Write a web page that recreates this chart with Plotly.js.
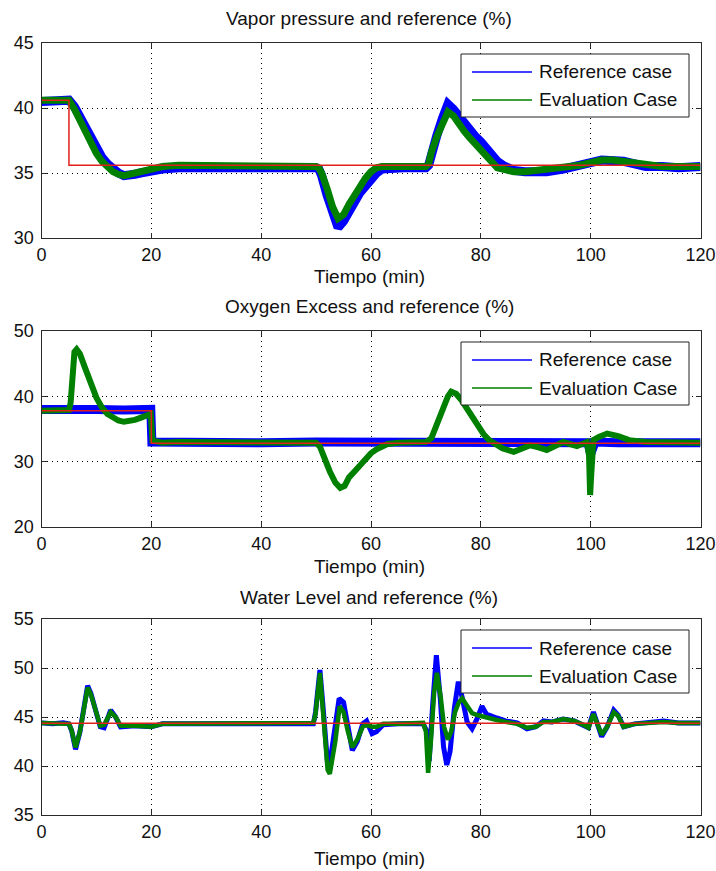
<!DOCTYPE html>
<html><head><meta charset="utf-8">
<script src="https://cdn.plot.ly/plotly-3.0.1.min.js"></script>
<style>html,body{margin:0;padding:0;background:#fff}#chart{width:716px;height:871px}</style>
</head><body><div id="chart"></div>
<script>
// ---------- DATA ----------
const xTicks = [0, 20, 40, 60, 80, 100, 120];
const titles = ["Vapor pressure and reference (%)", "Oxygen Excess and reference (%)", "Water Level and reference (%)"];
const xLabel = "Tiempo (min)";
const legendNames = ["Reference case", "Evaluation Case"];

// Plot 1: vapor pressure
const vpT = [0,1,2,3,4,5,6,7,8,9,10,11,12,13,14,15,16,17,18,19,20,22,25,30,35,40,45,50,50.5,51,52,53,54,55,56,57,58,59,60,61,62,64,66,68,70,70.5,71,72,73,74,75,76,77,78,79,80,81,82,83,84,85,86,88,90,92,95,98,100,102,104,106,108,110,113,116,120];
const vpRef = [40.5,40.5,40.6,40.5,40.6,40.6,40.1,39.3,38.3,37.5,36.8,36.2,35.7,35.3,35.0,34.8,34.8,34.9,35.0,35.1,35.2,35.3,35.4,35.4,35.5,35.4,35.4,35.4,35.3,34.8,33.3,31.9,30.8,31.3,32.1,32.8,33.5,34.0,34.6,35.0,35.3,35.4,35.4,35.4,35.4,35.6,36.6,37.9,39.2,40.3,39.9,39.3,38.8,38.3,37.8,37.4,36.9,36.3,35.9,35.6,35.3,35.2,35.1,35.1,35.1,35.3,35.5,35.8,36.0,36.0,35.9,35.7,35.5,35.5,35.4,35.5];
const vpEval = [40.6,40.6,40.7,40.6,40.7,40.6,39.9,39.0,38.0,37.2,36.5,35.9,35.4,35.1,34.9,34.8,34.9,35.0,35.1,35.3,35.4,35.5,35.6,35.6,35.6,35.5,35.5,35.5,35.4,35.0,33.8,32.4,31.5,31.8,32.6,33.3,34.0,34.6,35.1,35.4,35.5,35.5,35.5,35.5,35.5,35.7,36.6,37.8,38.9,39.7,39.4,38.7,38.2,37.7,37.2,36.8,36.3,35.8,35.4,35.3,35.2,35.1,35.1,35.2,35.2,35.4,35.6,35.8,36.0,36.0,35.9,35.7,35.6,35.5,35.5,35.5];
const vpSpT = [0,5,5,120];
const vpSp = [40.6,40.6,35.6,35.6];

// Plot 2: oxygen excess
const oxRefT = [0,5,10,15,19.9,20.1,25,30,40,50,60,70,80,90,99.5,100,100.3,100.8,105,110,120];
const oxRef = [38.0,38.1,38.0,37.9,38.0,33.0,32.9,33.0,32.9,33.0,33.0,33.0,33.0,32.9,32.9,31.2,32.5,33.0,32.9,32.9,32.9];
const oxEvalT = [0,2,4,5,5.3,5.6,6.0,6.4,7,8,9,10,11,12,13,14,15,16,17,18,19,19.9,20.2,22,25,30,35,40,45,50,50.7,51.5,52.5,53.5,54.4,55.2,56,57,58,59,60,61,62,63,65,68,70,71,72,73,74,74.6,75.5,76.5,77.5,78.5,79.5,80.5,81.5,82.5,84,86,87.5,89,90.5,92,93.5,95,97.5,99.3,99.7,99.9,100.1,100.5,101.5,103,105,107,110,113,116,120];
const oxEval = [37.8,37.9,37.8,37.9,39,44,46.8,47.2,46.5,44.2,42.0,39.8,38.3,37.3,36.8,36.3,36.1,36.2,36.4,36.7,37.1,37.3,33.2,32.9,33.0,33.0,32.9,32.9,33.0,32.9,32.3,30.5,28.5,26.8,26.0,26.3,27.6,28.5,29.5,30.5,31.3,31.9,32.4,32.7,32.9,33.0,33.0,33.6,35.8,38.0,40.0,40.7,40.4,39.4,38.0,36.6,35.4,34.2,33.3,32.8,32.0,31.5,32.0,32.5,32.2,31.8,32.4,33.0,32.4,33.0,31.0,24.9,28.0,33.3,33.8,34.3,33.9,33.3,33.0,33.0,32.9,32.9];
const oxSpT = [0,20,20,120];
const oxSp = [37.8,37.8,32.8,32.8];

// Plot 3: water level
const wlRefT = [0,2,4,5,5.5,6.2,7,7.8,8.4,9,10,10.7,11.4,12.6,13.5,14.4,17,20,22,30,40,49.5,49.9,50.3,50.7,51.2,51.7,52.1,52.7,53.5,54.2,55,55.8,56.6,57.5,58.5,59.2,60.2,61,62.2,65,69.5,70.2,70.6,71.2,71.9,72.6,73.2,73.8,74.4,75.2,75.9,76.6,77.5,78.4,79.3,80.2,81,82.9,84.5,86.6,88.4,90,91.4,93,95,97,98.7,99.6,100.5,101.2,102,103,104.2,105,106,108,113.3,116,120];
const wlRef = [44.4,44.3,44.4,44.3,43.6,41.7,43.5,46.5,48.2,47.4,45.5,44.0,43.9,45.7,45.0,44.0,44.1,44.0,44.3,44.3,44.3,44.3,45.5,48.5,49.8,46.5,42.0,40.2,41.0,44.0,46.9,46.5,43.8,41.6,42.5,44.3,44.6,43.3,43.5,44.2,44.3,44.3,43.5,40.5,46.0,51.3,47.0,42.0,40.1,41.5,46.0,48.6,47.0,44.5,43.8,44.8,46.1,45.3,44.9,44.6,44.4,43.8,44.0,44.6,44.5,44.8,44.6,44.1,43.9,45.5,44.2,43.0,44.0,45.7,45.2,44.0,44.3,44.6,44.4,44.4];
const wlEvalT = [0,2,4,5,5.5,6.2,7,7.8,8.4,9,10,10.7,11.4,12.6,13.5,14.4,17,20,22,30,40,49.5,49.9,50.3,50.7,51.2,51.7,52.1,52.5,53.5,54.3,55,55.8,56.6,57.5,58.5,59.2,60.2,61,62.2,65,69.5,70.0,70.4,70.9,71.5,72.0,72.7,73.3,74.0,74.6,75.3,76.0,76.6,77.3,78.4,79.3,80.2,81,82.9,84.5,86.6,88.4,90,91.4,93,95,97,98.7,99.6,100.5,101.2,102,103,104.2,105,106,108,113.3,116,120];
const wlEval = [44.4,44.4,44.4,44.3,43.6,41.9,43.5,46.4,48.0,47.3,45.4,44.1,44.2,45.5,45.0,44.1,44.1,44.0,44.3,44.3,44.3,44.4,45.3,48.0,49.5,46.0,41.5,39.6,39.2,42.5,46.1,45.5,43.5,41.9,42.7,44.0,44.2,44.0,44.0,44.3,44.3,44.4,43.5,39.3,42.5,47.5,49.5,47.0,44.0,42.7,43.5,45.5,46.5,46.9,46.3,45.4,45.2,45.1,44.9,44.7,44.5,44.3,43.9,44.0,44.5,44.5,44.8,44.6,44.2,43.9,45.3,44.2,43.2,44.0,45.5,45.1,44.0,44.3,44.5,44.4,44.4];
const wlSpT = [0,120];
const wlSp = [44.35,44.35];

const yRanges = [[30,45],[20,50],[35,55]];
const yTicks = [[30,35,40,45],[20,30,40,50],[35,40,45,50,55]];

// ---------- STYLE ----------
const BLUE = '#0000ff', GREEN = '#008000', RED = '#e0201a';
const FONT = 'Liberation Sans, Arial, sans-serif';
const W = 716, H = 871;
const plotL = 41.5, plotR = 700.5;
const plotTops = [43, 331, 619], plotBots = [238, 527, 815];
const titleY = [18, 307, 597], xlabY = [277, 566, 858];
const legTop = [54, 342, 630];
const legL = 461, legR = 689, legH = 63;
const bandW = [[9, 7], [9, 6], [5, 4.5]];
const TXT = 19;

const sets = [
  {rt: vpT, r: vpRef, et: vpT, e: vpEval, st: vpSpT, s: vpSp},
  {rt: oxRefT, r: oxRef, et: oxEvalT, e: oxEval, st: oxSpT, s: oxSp},
  {rt: wlRefT, r: wlRef, et: wlEvalT, e: wlEval, st: wlSpT, s: wlSp}
];

const px = v => v / W;
const py = v => 1 - v / H;

const traces = [];
const layout = {
  width: W, height: H, margin: {l:0, r:0, t:0, b:0},
  paper_bgcolor: '#fff', plot_bgcolor: '#fff', showlegend: false,
  font: {family: FONT, color: '#111'},
  annotations: [], shapes: []
};

sets.forEach((d, i) => {
  const n = i === 0 ? '' : String(i + 1);
  const xa = 'x' + n, ya = 'y' + n;
  traces.push({x: d.rt, y: d.r, xaxis: xa, yaxis: ya, mode: 'lines', type: 'scatter',
    name: legendNames[0], line: {color: BLUE, width: bandW[i][0]}, hoverinfo: 'skip'});
  traces.push({x: d.et, y: d.e, xaxis: xa, yaxis: ya, mode: 'lines', type: 'scatter',
    name: legendNames[1], line: {color: GREEN, width: bandW[i][1]}, hoverinfo: 'skip'});
  traces.push({x: d.st, y: d.s, xaxis: xa, yaxis: ya, mode: 'lines', type: 'scatter',
    name: 'reference', line: {color: RED, width: 1.5}, hoverinfo: 'skip'});

  const axBase = {
    showline: true, linecolor: '#2a2a2a', linewidth: 1, mirror: 'allticks',
    ticks: 'inside', ticklen: 5, tickcolor: '#2a2a2a', tickwidth: 1,
    showgrid: true, gridcolor: '#000', griddash: '1px,4px', gridwidth: 1,
    zeroline: false, fixedrange: true,
    tickfont: {family: FONT, size: 18, color: '#111'}
  };
  layout['xaxis' + n] = Object.assign({}, axBase, {
    domain: [px(plotL), px(plotR)], anchor: ya, range: [0, 120],
    tickmode: 'array', tickvals: xTicks, ticktext: xTicks.map(String),
    ticklabelstandoff: 0
  });
  layout['yaxis' + n] = Object.assign({}, axBase, {
    domain: [py(plotBots[i]), py(plotTops[i])], anchor: xa, range: yRanges[i],
    tickmode: 'array', tickvals: yTicks[i], ticktext: yTicks[i].map(String),
    ticklabelstandoff: 3
  });

  // legend box (drawn like the MATLAB legend)
  const t0 = legTop[i];
  layout.shapes.push({type: 'rect', xref: 'paper', yref: 'paper',
    x0: px(legL), x1: px(legR), y0: py(t0), y1: py(t0 + legH),
    fillcolor: '#fff', line: {color: '#222', width: 1}, layer: 'above'});
  [BLUE, GREEN].forEach((c, k) => {
    const yy = t0 + 18 + k * 28;
    layout.shapes.push({type: 'line', xref: 'paper', yref: 'paper',
      x0: px(472), x1: px(532), y0: py(yy), y1: py(yy),
      line: {color: c, width: 1.5}, layer: 'above'});
    layout.annotations.push({text: legendNames[k], xref: 'paper', yref: 'paper',
      x: px(537), y: py(yy), xanchor: 'left', yanchor: 'middle', showarrow: false,
      font: {family: FONT, size: TXT, color: '#111'}});
  });

  layout.annotations.push({text: titles[i], xref: 'paper', yref: 'paper',
    x: px((plotL + plotR) / 2 - 2), y: py(titleY[i]), xanchor: 'center', yanchor: 'middle',
    showarrow: false, font: {family: FONT, size: TXT, color: '#111'}});
  layout.annotations.push({text: xLabel, xref: 'paper', yref: 'paper',
    x: px((plotL + plotR) / 2 - 2), y: py(xlabY[i]), xanchor: 'center', yanchor: 'middle',
    showarrow: false, font: {family: FONT, size: TXT, color: '#111'}});
});

Plotly.newPlot('chart', traces, layout, {displayModeBar: false, staticPlot: true});
</script>
</body></html>
